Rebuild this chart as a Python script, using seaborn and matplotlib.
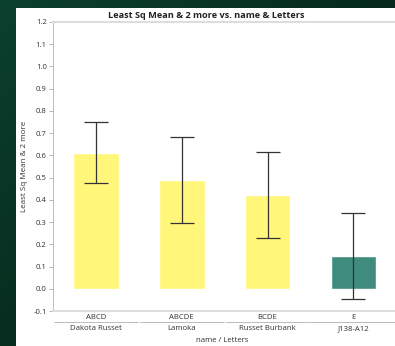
import numpy as np
import pandas as pd
import matplotlib
matplotlib.use("Agg")
import matplotlib.pyplot as plt
import matplotlib.transforms as mtransforms
from matplotlib.patches import Rectangle
import seaborn as sns

# Least squares means with their lower/upper interval bounds
names = ["Dakota Russet", "Lamoka", "Russet Burbank", "J138-A12"]
letters = ["ABCD", "ABCDE", "BCDE", "E"]
means = [0.612, 0.490, 0.423, 0.149]
lower = [0.476, 0.297, 0.230, -0.045]
upper = [0.748, 0.684, 0.617, 0.342]
bar_colors = ["#fff67a", "#fff67a", "#fff67a", "#3f8b7d"]

yticks = [round(-0.1 + 0.1 * i, 1) for i in range(14)]

sns.set_theme(style="white")
plt.rcParams["font.family"] = ["Open Sans", "DejaVu Sans"]

W, H = 395, 346
fig = plt.figure(figsize=(W / 100, H / 100), dpi=100)

# dark green gradient backdrop
bg = fig.add_axes([0, 0, 1, 1], zorder=-10)
gx = np.linspace(0, 1, 200)
gy = np.linspace(0, 1, 200)
GX, GY = np.meshgrid(gx, gy)
t = np.clip(0.6 * GX + 0.5 * GY, 0, 1)
c0 = np.array([0x0c, 0x40, 0x2e]) / 255
c1 = np.array([0x01, 0x1a, 0x10]) / 255
img = c0[None, None, :] * (1 - t[..., None]) + c1[None, None, :] * t[..., None]
bg.imshow(img, extent=[0, 1, 0, 1], aspect="auto", origin="upper")
bg.add_patch(Rectangle((16 / W, 0), 1 - 16 / W, 1 - 8 / H, facecolor="white",
                       edgecolor="none", transform=bg.transAxes))
bg.set_axis_off()

ax = fig.add_axes([53 / W, 35 / H, 1 - 53 / W + 0.01, (311 - 22) / H])
df = pd.DataFrame({"letters": letters, "mean": means})
sns.barplot(data=df, x="letters", y="mean", hue="letters", palette=bar_colors,
            legend=False, errorbar=None, width=0.53, ax=ax, saturation=1)

xpos = np.arange(len(names))
m = np.array(means)
err = np.vstack([m - np.array(lower), np.array(upper) - m])
ax.errorbar(xpos, m, yerr=err, fmt="none", ecolor="#333333", elinewidth=0.9,
            capsize=8.6, capthick=0.9, zorder=5)

ax.set_ylim(-0.1, 1.2)
ax.set_xlim(-0.5, 3.53)
ax.set_yticks(yticks)
ax.set_yticklabels([f"{v:.1f}" for v in yticks], fontsize=5.6, color="#333333")
ax.set_xticks(xpos)
ax.set_xticklabels(letters, fontsize=5.6, color="#333333")
ax.tick_params(axis="y", length=3, width=0.6, color="#aaaaaa", pad=1.5, left=True)
ax.tick_params(axis="x", length=0, pad=2)
ax.set_xlabel("")
ax.set_ylabel("Least Sq Mean & 2 more", fontsize=5.8, color="#333333", labelpad=4)

for s in ["right"]:
    ax.spines[s].set_visible(False)
ax.spines["left"].set_color("#bbbbbb")
ax.spines["left"].set_linewidth(0.7)
ax.spines["top"].set_color("#dddddd")
ax.spines["top"].set_linewidth(1.5)
ax.spines["bottom"].set_color("#dddddd")
ax.spines["bottom"].set_linewidth(1.5)

# second tier of category labels with separator lines
trans = mtransforms.blended_transform_factory(ax.transData, fig.transFigure)
ysep = 1 - 322 / H
for i, nm in enumerate(names):
    ax.plot([i - 0.49, i + 0.49], [ysep, ysep], transform=trans, color="#bbbbbb",
            lw=0.7, clip_on=False)
    ax.text(i, 1 - 329 / H, nm, transform=trans, ha="center", va="center",
            fontsize=5.6, color="#333333")

fig.text(222 / W, 1 - 341 / H, "name / Letters", ha="center", va="center",
         fontsize=5.6, color="#333333")
fig.text(206 / W, 1 - 16 / H, "Least Sq Mean & 2 more vs. name & Letters",
         ha="center", va="center", fontsize=6.6, fontweight="bold", color="#222222")

fig.savefig("out.png", dpi=100)
